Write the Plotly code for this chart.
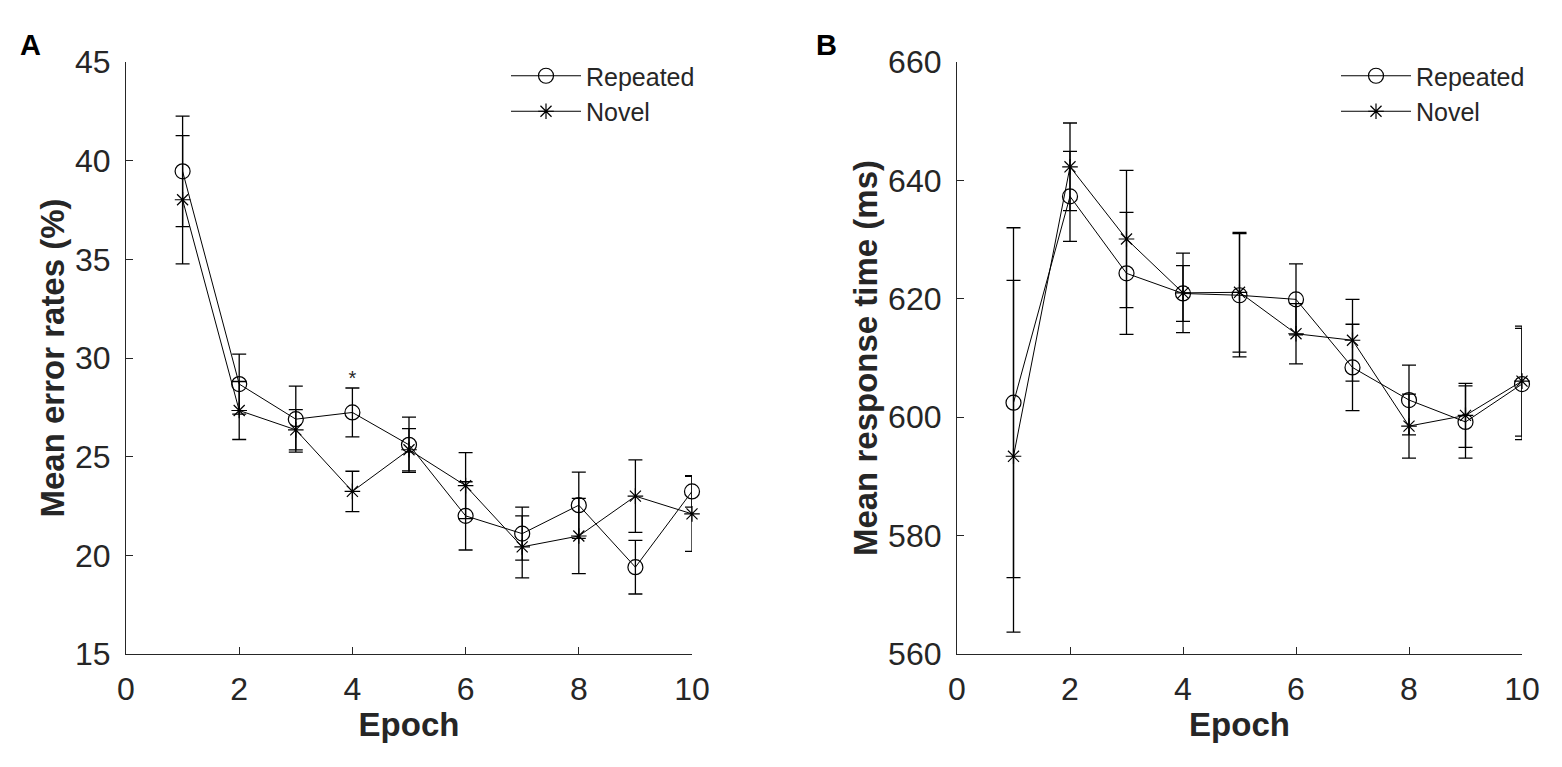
import plotly.graph_objects as go
from plotly.subplots import make_subplots

# epochs shared by both panels
epochs = [1, 2, 3, 4, 5, 6, 7, 8, 9, 10]

# panel A: mean error rates (%)
rep_err = [39.46, 28.68, 26.9, 27.24, 25.6, 22.0, 21.1, 22.54, 19.4, 23.24]
rep_err_se = [2.8, 1.52, 1.67, 1.24, 1.4, 1.73, 1.34, 1.68, 1.36, 0.8]
nov_err = [38.02, 27.34, 26.36, 23.24, 25.35, 23.53, 20.43, 20.98, 23.0, 22.1]
nov_err_se = [3.25, 1.47, 1.02, 1.02, 1.07, 1.67, 1.57, 1.91, 1.84, 1.9]

# panel B: mean response time (ms)
rep_rt = [602.45, 637.3, 624.3, 620.9, 620.6, 619.9, 608.4, 602.9, 599.2, 605.6]
rep_rt_se = [29.55, 7.6, 10.3, 4.7, 10.4, 6.0, 7.3, 5.9, 6.1, 9.4]
nov_rt = [593.4, 642.3, 630.1, 621.0, 621.1, 614.1, 613.0, 598.5, 600.3, 606.1]
nov_rt_se = [29.7, 7.4, 11.6, 6.7, 10.1, 5.1, 6.9, 5.4, 5.4, 9.3]

# significance mark
sig_x = [4]
sig_y = [28.9]

W, H = 1562, 767
OFF = 8  # page body margin
txt = '#262626'
font = 'Arial, Liberation Sans, sans-serif'


def px(x):
    return (x - OFF) / W


def py(y):
    return 1 - (y - OFF) / H


fig = make_subplots(rows=1, cols=2)


def add_series(col, y, err, name, symbol, size, legend):
    fig.add_trace(go.Scatter(
        x=epochs, y=y, name=name, mode='lines+markers',
        line=dict(color='black', width=1),
        marker=dict(symbol=symbol, size=size, color='black',
                    line=dict(color='black', width=1.2)),
        error_y=dict(type='data', array=err, visible=True,
                     color='black', thickness=1.3, width=7),
        legend=legend, showlegend=True, cliponaxis=False,
    ), row=1, col=col)


add_series(1, nov_err, nov_err_se, 'Novel', 'asterisk-open', 13, 'legend')
add_series(1, rep_err, rep_err_se, 'Repeated', 'circle-open', 15, 'legend')
add_series(2, nov_rt, nov_rt_se, 'Novel', 'asterisk-open', 13, 'legend2')
add_series(2, rep_rt, rep_rt_se, 'Repeated', 'circle-open', 15, 'legend2')

ax = dict(showline=True, linecolor=txt, linewidth=1.2, ticks='inside',
          ticklen=7, tickcolor=txt, showgrid=False, zeroline=False,
          mirror=False, tickfont=dict(family=font, size=32, color=txt),
          automargin=False)
ttl = dict(family=font, size=33, color=txt, weight='bold')

ydom = [py(654), py(62)]
fig.update_xaxes(ax, range=[0, 10], tickvals=[0, 2, 4, 6, 8, 10],
                 ticklabelstandoff=6,
                 title=dict(text='Epoch', font=ttl, standoff=7))
fig.update_xaxes(domain=[px(126), px(692)], row=1, col=1)
fig.update_xaxes(domain=[px(957), px(1522)], row=1, col=2)
fig.update_yaxes(ax, domain=ydom, ticklabelstandoff=8)
fig.update_yaxes(range=[15, 45], tickvals=[15, 20, 25, 30, 35, 40, 45],
                 title=dict(text='Mean error rates (%)', font=ttl, standoff=0),
                 row=1, col=1)
fig.update_yaxes(range=[560, 660], tickvals=[560, 580, 600, 620, 640, 660],
                 title=dict(text='Mean response time (ms)', font=ttl, standoff=0),
                 row=1, col=2)

# significance star over epoch 4
fig.add_trace(go.Scatter(x=sig_x, y=sig_y, mode='text', text=['*'],
                         textfont=dict(family=font, size=20, color=txt),
                         showlegend=False, hoverinfo='skip'), row=1, col=1)

# panel letters
for lab, xx in [('A', 30), ('B', 826)]:
    fig.add_annotation(x=px(xx), y=py(45), xref='paper', yref='paper',
                       xanchor='center', yanchor='middle',
                       text=lab, showarrow=False,
                       font=dict(family=font, size=29, color='black', weight='bold'))

leg = dict(bgcolor='rgba(0,0,0,0)', borderwidth=0, traceorder='reversed',
           font=dict(family=font, size=25, color=txt), itemwidth=70,
           xanchor='right', yanchor='top', tracegroupgap=0)
fig.update_layout(
    width=W, height=H,
    margin=dict(l=0, r=0, t=0, b=0),
    paper_bgcolor='white', plot_bgcolor='white',
    legend=dict(leg, x=px(700), y=py(53)),
    legend2=dict(leg, x=px(1530), y=py(53)),
)

fig.write_html('out.html')
